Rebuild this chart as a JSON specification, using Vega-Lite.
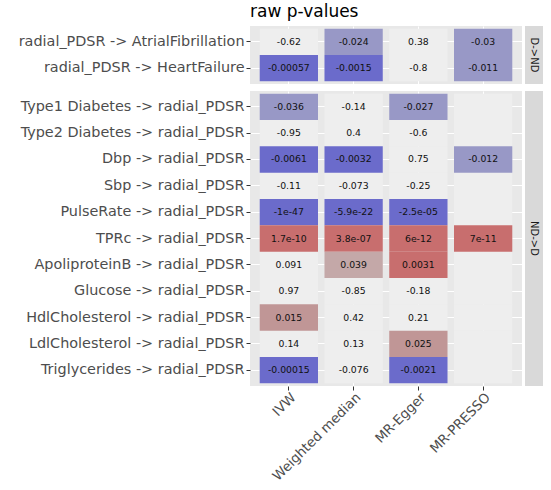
{
  "$schema": "https://vega.github.io/schema/vega-lite/v6.json",
  "padding": {"left": 18, "top": 3, "right": 5, "bottom": 1},
  "background": "white",
  "config": {
    "font": "DejaVu Sans",
    "axis": {
      "labelFont": "DejaVu Sans",
      "labelFontSize": 14.4,
      "labelColor": "#4d4d4d",
      "labelLimit": 0,
      "tickColor": "#333333",
      "tickSize": 4,
      "domain": false,
      "grid": true,
      "gridColor": "#ffffff",
      "gridWidth": 1,
      "bandPosition": 0.5,
      "zindex": 0,
      "title": null
    }
  },
  "datasets": {
    "cells": [
      {"group": "D->ND", "pair": "radial_PDSR -> AtrialFibrillation", "method": "IVW", "p": -0.62, "label": "-0.62"},
      {"group": "D->ND", "pair": "radial_PDSR -> AtrialFibrillation", "method": "Weighted median", "p": -0.024, "label": "-0.024"},
      {"group": "D->ND", "pair": "radial_PDSR -> AtrialFibrillation", "method": "MR-Egger", "p": 0.38, "label": "0.38"},
      {"group": "D->ND", "pair": "radial_PDSR -> AtrialFibrillation", "method": "MR-PRESSO", "p": -0.03, "label": "-0.03"},
      {"group": "D->ND", "pair": "radial_PDSR -> HeartFailure", "method": "IVW", "p": -0.00057, "label": "-0.00057"},
      {"group": "D->ND", "pair": "radial_PDSR -> HeartFailure", "method": "Weighted median", "p": -0.0015, "label": "-0.0015"},
      {"group": "D->ND", "pair": "radial_PDSR -> HeartFailure", "method": "MR-Egger", "p": -0.8, "label": "-0.8"},
      {"group": "D->ND", "pair": "radial_PDSR -> HeartFailure", "method": "MR-PRESSO", "p": -0.011, "label": "-0.011"},

      {"group": "ND->D", "pair": "Type1 Diabetes -> radial_PDSR", "method": "IVW", "p": -0.036, "label": "-0.036"},
      {"group": "ND->D", "pair": "Type1 Diabetes -> radial_PDSR", "method": "Weighted median", "p": -0.14, "label": "-0.14"},
      {"group": "ND->D", "pair": "Type1 Diabetes -> radial_PDSR", "method": "MR-Egger", "p": -0.027, "label": "-0.027"},
      {"group": "ND->D", "pair": "Type1 Diabetes -> radial_PDSR", "method": "MR-PRESSO", "p": null, "label": ""},
      {"group": "ND->D", "pair": "Type2 Diabetes -> radial_PDSR", "method": "IVW", "p": -0.95, "label": "-0.95"},
      {"group": "ND->D", "pair": "Type2 Diabetes -> radial_PDSR", "method": "Weighted median", "p": 0.4, "label": "0.4"},
      {"group": "ND->D", "pair": "Type2 Diabetes -> radial_PDSR", "method": "MR-Egger", "p": -0.6, "label": "-0.6"},
      {"group": "ND->D", "pair": "Type2 Diabetes -> radial_PDSR", "method": "MR-PRESSO", "p": null, "label": ""},
      {"group": "ND->D", "pair": "Dbp -> radial_PDSR", "method": "IVW", "p": -0.0061, "label": "-0.0061"},
      {"group": "ND->D", "pair": "Dbp -> radial_PDSR", "method": "Weighted median", "p": -0.0032, "label": "-0.0032"},
      {"group": "ND->D", "pair": "Dbp -> radial_PDSR", "method": "MR-Egger", "p": 0.75, "label": "0.75"},
      {"group": "ND->D", "pair": "Dbp -> radial_PDSR", "method": "MR-PRESSO", "p": -0.012, "label": "-0.012"},
      {"group": "ND->D", "pair": "Sbp -> radial_PDSR", "method": "IVW", "p": -0.11, "label": "-0.11"},
      {"group": "ND->D", "pair": "Sbp -> radial_PDSR", "method": "Weighted median", "p": -0.073, "label": "-0.073"},
      {"group": "ND->D", "pair": "Sbp -> radial_PDSR", "method": "MR-Egger", "p": -0.25, "label": "-0.25"},
      {"group": "ND->D", "pair": "Sbp -> radial_PDSR", "method": "MR-PRESSO", "p": null, "label": ""},
      {"group": "ND->D", "pair": "PulseRate -> radial_PDSR", "method": "IVW", "p": -1e-47, "label": "-1e-47"},
      {"group": "ND->D", "pair": "PulseRate -> radial_PDSR", "method": "Weighted median", "p": -5.9e-22, "label": "-5.9e-22"},
      {"group": "ND->D", "pair": "PulseRate -> radial_PDSR", "method": "MR-Egger", "p": -2.5e-05, "label": "-2.5e-05"},
      {"group": "ND->D", "pair": "PulseRate -> radial_PDSR", "method": "MR-PRESSO", "p": null, "label": ""},
      {"group": "ND->D", "pair": "TPRc -> radial_PDSR", "method": "IVW", "p": 1.7e-10, "label": "1.7e-10"},
      {"group": "ND->D", "pair": "TPRc -> radial_PDSR", "method": "Weighted median", "p": 3.8e-07, "label": "3.8e-07"},
      {"group": "ND->D", "pair": "TPRc -> radial_PDSR", "method": "MR-Egger", "p": 6e-12, "label": "6e-12"},
      {"group": "ND->D", "pair": "TPRc -> radial_PDSR", "method": "MR-PRESSO", "p": 7e-11, "label": "7e-11"},
      {"group": "ND->D", "pair": "ApoliproteinB -> radial_PDSR", "method": "IVW", "p": 0.091, "label": "0.091"},
      {"group": "ND->D", "pair": "ApoliproteinB -> radial_PDSR", "method": "Weighted median", "p": 0.039, "label": "0.039"},
      {"group": "ND->D", "pair": "ApoliproteinB -> radial_PDSR", "method": "MR-Egger", "p": 0.0031, "label": "0.0031"},
      {"group": "ND->D", "pair": "ApoliproteinB -> radial_PDSR", "method": "MR-PRESSO", "p": null, "label": ""},
      {"group": "ND->D", "pair": "Glucose -> radial_PDSR", "method": "IVW", "p": 0.97, "label": "0.97"},
      {"group": "ND->D", "pair": "Glucose -> radial_PDSR", "method": "Weighted median", "p": -0.85, "label": "-0.85"},
      {"group": "ND->D", "pair": "Glucose -> radial_PDSR", "method": "MR-Egger", "p": -0.18, "label": "-0.18"},
      {"group": "ND->D", "pair": "Glucose -> radial_PDSR", "method": "MR-PRESSO", "p": null, "label": ""},
      {"group": "ND->D", "pair": "HdlCholesterol -> radial_PDSR", "method": "IVW", "p": 0.015, "label": "0.015"},
      {"group": "ND->D", "pair": "HdlCholesterol -> radial_PDSR", "method": "Weighted median", "p": 0.42, "label": "0.42"},
      {"group": "ND->D", "pair": "HdlCholesterol -> radial_PDSR", "method": "MR-Egger", "p": 0.21, "label": "0.21"},
      {"group": "ND->D", "pair": "HdlCholesterol -> radial_PDSR", "method": "MR-PRESSO", "p": null, "label": ""},
      {"group": "ND->D", "pair": "LdlCholesterol -> radial_PDSR", "method": "IVW", "p": 0.14, "label": "0.14"},
      {"group": "ND->D", "pair": "LdlCholesterol -> radial_PDSR", "method": "Weighted median", "p": 0.13, "label": "0.13"},
      {"group": "ND->D", "pair": "LdlCholesterol -> radial_PDSR", "method": "MR-Egger", "p": 0.025, "label": "0.025"},
      {"group": "ND->D", "pair": "LdlCholesterol -> radial_PDSR", "method": "MR-PRESSO", "p": null, "label": ""},
      {"group": "ND->D", "pair": "Triglycerides -> radial_PDSR", "method": "IVW", "p": -0.00015, "label": "-0.00015"},
      {"group": "ND->D", "pair": "Triglycerides -> radial_PDSR", "method": "Weighted median", "p": -0.076, "label": "-0.076"},
      {"group": "ND->D", "pair": "Triglycerides -> radial_PDSR", "method": "MR-Egger", "p": -0.0021, "label": "-0.0021"},
      {"group": "ND->D", "pair": "Triglycerides -> radial_PDSR", "method": "MR-PRESSO", "p": null, "label": ""}
    ]
  },
  "columns": 2,
  "align": "each",
  "spacing": {"row": 7, "column": 3},
  "concat": [
    {
      "title": {"text": "raw p-values", "anchor": "start", "frame": "group", "fontSize": 17, "fontWeight": "normal", "color": "#000000", "offset": 5},
      "width": 272,
      "height": 58,
      "view": {"fill": "#e8e8e8", "stroke": null},
      "data": {"name": "cells"},
      "transform": [{"filter": "datum.group === 'D->ND'"}],
      "encoding": {
        "x": {"field": "method", "type": "nominal", "sort": ["IVW", "Weighted median", "MR-Egger", "MR-PRESSO"],
              "scale": {"paddingInner": 0.1, "paddingOuter": 0.15},
              "axis": {"labels": false, "ticks": false, "orient": "bottom"}},
        "y": {"field": "pair", "type": "nominal",
              "sort": ["radial_PDSR -> AtrialFibrillation", "radial_PDSR -> HeartFailure"],
              "scale": {"paddingInner": 0, "paddingOuter": 0.1},
              "axis": {"labelPadding": 2}}
      },
      "layer": [
        {"mark": {"type": "rect", "fill": "#eeeeee"}},
        {
          "transform": [{"filter": "isValid(datum.p) && abs(datum.p) < 0.05"}],
          "mark": {"type": "rect"},
          "encoding": {
            "fill": {"field": "p", "type": "quantitative", "legend": null,
                     "scale": {"type": "threshold", "domain": [-0.05, -0.01, 0, 0.01, 0.03, 0.05],
                               "range": ["#eeeeee", "#9898c6", "#6b6bcb", "#c86e6e", "#c09696", "#c4a8a8", "#eeeeee"]}}
          }
        },
        {
          "mark": {"type": "text", "fontSize": 9.3, "color": "#111111"},
          "encoding": {"text": {"field": "label", "type": "nominal"}}
        }
      ]
    },
    {
      "width": 18,
      "height": 58,
      "view": {"fill": "#d9d9d9", "stroke": null},
      "data": {"values": [{"strip": "D->ND"}]},
      "mark": {"type": "text", "angle": 90, "fontSize": 10, "color": "#1a1a1a"},
      "encoding": {"text": {"field": "strip", "type": "nominal"}}
    },
    {
      "width": 272,
      "height": 295,
      "view": {"fill": "#e8e8e8", "stroke": null},
      "data": {"name": "cells"},
      "transform": [{"filter": "datum.group === 'ND->D'"}],
      "encoding": {
        "x": {"field": "method", "type": "nominal", "sort": ["IVW", "Weighted median", "MR-Egger", "MR-PRESSO"],
              "scale": {"paddingInner": 0.1, "paddingOuter": 0.15},
              "axis": {"labelAngle": -45, "labelAlign": "right", "labelBaseline": "top", "labelPadding": 0, "labelFontSize": 13.4}},
        "y": {"field": "pair", "type": "nominal",
              "sort": ["Type1 Diabetes -> radial_PDSR", "Type2 Diabetes -> radial_PDSR", "Dbp -> radial_PDSR", "Sbp -> radial_PDSR", "PulseRate -> radial_PDSR", "TPRc -> radial_PDSR", "ApoliproteinB -> radial_PDSR", "Glucose -> radial_PDSR", "HdlCholesterol -> radial_PDSR", "LdlCholesterol -> radial_PDSR", "Triglycerides -> radial_PDSR"],
              "scale": {"paddingInner": 0, "paddingOuter": 0.1},
              "axis": {"labelPadding": 2}}
      },
      "layer": [
        {"mark": {"type": "rect", "fill": "#eeeeee"}},
        {
          "transform": [{"filter": "isValid(datum.p) && abs(datum.p) < 0.05"}],
          "mark": {"type": "rect"},
          "encoding": {
            "fill": {"field": "p", "type": "quantitative", "legend": null,
                     "scale": {"type": "threshold", "domain": [-0.05, -0.01, 0, 0.01, 0.03, 0.05],
                               "range": ["#eeeeee", "#9898c6", "#6b6bcb", "#c86e6e", "#c09696", "#c4a8a8", "#eeeeee"]}}
          }
        },
        {
          "mark": {"type": "text", "fontSize": 9.3, "color": "#111111"},
          "encoding": {"text": {"field": "label", "type": "nominal"}}
        }
      ]
    },
    {
      "width": 18,
      "height": 295,
      "view": {"fill": "#d9d9d9", "stroke": null},
      "data": {"values": [{"strip": "ND->D"}]},
      "mark": {"type": "text", "angle": 90, "fontSize": 10, "color": "#1a1a1a"},
      "encoding": {"text": {"field": "strip", "type": "nominal"}}
    }
  ]
}
